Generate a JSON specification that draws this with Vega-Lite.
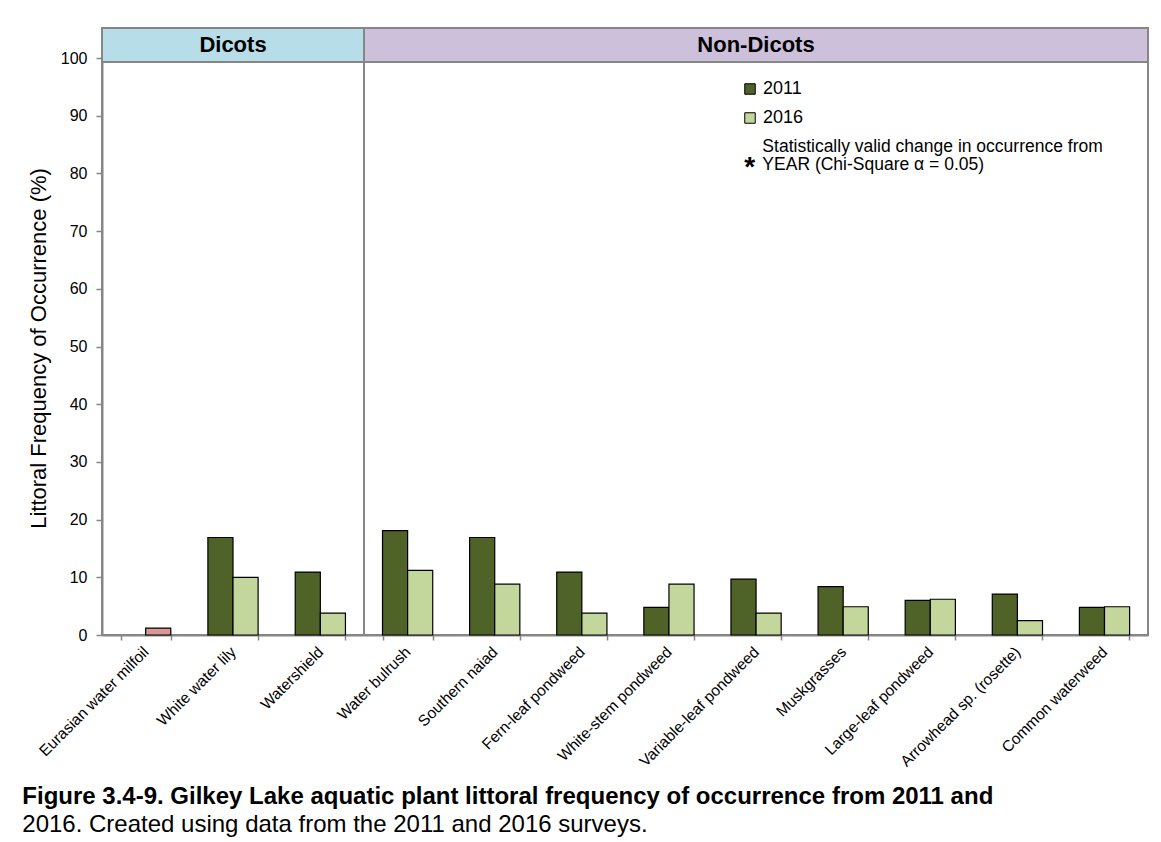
{
  "$schema": "https://vega.github.io/schema/vega-lite/v6.json",
  "padding": {"left": 22, "top": 26, "right": 5, "bottom": 2},
  "background": "white",
  "datasets": {
    "freq": [
      {"group": "Dicots", "species": "Eurasian water milfoil", "year": "2016", "value": 1.2},
      {"group": "Dicots", "species": "White water lily", "year": "2011", "value": 16.9},
      {"group": "Dicots", "species": "White water lily", "year": "2016", "value": 10.0},
      {"group": "Dicots", "species": "Watershield", "year": "2011", "value": 10.9},
      {"group": "Dicots", "species": "Watershield", "year": "2016", "value": 3.8},
      {"group": "Non-Dicots", "species": "Water bulrush", "year": "2011", "value": 18.1},
      {"group": "Non-Dicots", "species": "Water bulrush", "year": "2016", "value": 11.2},
      {"group": "Non-Dicots", "species": "Southern naiad", "year": "2011", "value": 16.9},
      {"group": "Non-Dicots", "species": "Southern naiad", "year": "2016", "value": 8.8},
      {"group": "Non-Dicots", "species": "Fern-leaf pondweed", "year": "2011", "value": 10.9},
      {"group": "Non-Dicots", "species": "Fern-leaf pondweed", "year": "2016", "value": 3.8},
      {"group": "Non-Dicots", "species": "White-stem pondweed", "year": "2011", "value": 4.8},
      {"group": "Non-Dicots", "species": "White-stem pondweed", "year": "2016", "value": 8.8},
      {"group": "Non-Dicots", "species": "Variable-leaf pondweed", "year": "2011", "value": 9.7},
      {"group": "Non-Dicots", "species": "Variable-leaf pondweed", "year": "2016", "value": 3.8},
      {"group": "Non-Dicots", "species": "Muskgrasses", "year": "2011", "value": 8.4},
      {"group": "Non-Dicots", "species": "Muskgrasses", "year": "2016", "value": 4.9},
      {"group": "Non-Dicots", "species": "Large-leaf pondweed", "year": "2011", "value": 6.0},
      {"group": "Non-Dicots", "species": "Large-leaf pondweed", "year": "2016", "value": 6.2},
      {"group": "Non-Dicots", "species": "Arrowhead sp. (rosette)", "year": "2011", "value": 7.1},
      {"group": "Non-Dicots", "species": "Arrowhead sp. (rosette)", "year": "2016", "value": 2.5},
      {"group": "Non-Dicots", "species": "Common waterweed", "year": "2011", "value": 4.8},
      {"group": "Non-Dicots", "species": "Common waterweed", "year": "2016", "value": 4.9}
    ],
    "headers": [
      {"group": "Dicots"},
      {"group": "Non-Dicots"}
    ],
    "note": [
      {"line1": "Statistically valid change in occurrence from", "line2": "YEAR (Chi-Square α = 0.05)", "star": "*"}
    ]
  },
  "spacing": 0,
  "bounds": "flush",
  "resolve": {"legend": {"color": "independent"}},
  "hconcat": [
    {
      "width": 262,
      "height": 607,
      "layer": [
        {
          "data": {"name": "freq"},
          "transform": [{"filter": "datum.group === 'Dicots'"}],
          "mark": {"type": "bar", "stroke": "black", "strokeWidth": 1.2},
          "encoding": {
            "x": {
              "field": "species", "type": "nominal",
              "sort": ["Eurasian water milfoil", "White water lily", "Watershield"],
              "scale": {"paddingInner": 0.425, "paddingOuter": 0.2125},
              "title": null,
              "axis": {"labelAngle": -45, "tickBand": "extent"}
            },
            "xOffset": {"field": "year", "type": "nominal", "scale": {"domain": ["2011", "2016"]}},
            "y": {
              "field": "value", "type": "quantitative",
              "scale": {"domain": [0, 105.2], "nice": false, "zero": true},
              "axis": {
                "title": "Littoral Frequency of Occurrence (%)",
                "values": [0, 5, 10, 15, 20, 25, 30, 35, 40, 45, 50, 55, 60, 65, 70, 75, 80, 85, 90, 95, 100],
                "labelExpr": "datum.value % 10 === 0 ? datum.label : ''",
                "tickSize": {"condition": {"test": "datum.value % 10 === 0", "value": 6}, "value": 3},
                "labelFontSize": 16,
                "labelPadding": 9,
                "titleFontSize": 22,
                "titleFontWeight": "normal",
                "titlePadding": 10,
                "titleY": 320,
                "grid": false
              }
            },
            "color": {
              "condition": {"test": "datum.species === 'Eurasian water milfoil'", "value": "#d99795"},
              "field": "year", "type": "nominal",
              "scale": {"domain": ["2011", "2016"], "range": ["#4f6228", "#c3d69b"]},
              "legend": null
            }
          }
        },
        {
          "data": {"name": "headers"},
          "transform": [{"filter": "datum.group === 'Dicots'"}],
          "mark": {"type": "rect", "fill": "#b7dde8", "stroke": "#868686", "strokeWidth": 2},
          "encoding": {
            "x": {"value": 0},
            "x2": {"value": "width"},
            "y": {"datum": 99.3, "type": "quantitative"},
            "y2": {"datum": 105.2}
          }
        },
        {
          "data": {"name": "headers"},
          "transform": [{"filter": "datum.group === 'Dicots'"}],
          "mark": {"type": "text", "fontSize": 22, "fontWeight": "bold", "color": "black", "baseline": "middle"},
          "encoding": {
            "text": {"field": "group"},
            "y": {"datum": 102.25, "type": "quantitative"}
          }
        }
      ]
    },
    {
      "width": 784,
      "height": 607,
      "layer": [
        {
          "data": {"name": "freq"},
          "transform": [{"filter": "datum.group === 'Non-Dicots'"}],
          "mark": {"type": "bar", "stroke": "black", "strokeWidth": 1.2},
          "encoding": {
            "x": {
              "field": "species", "type": "nominal",
              "sort": ["Water bulrush", "Southern naiad", "Fern-leaf pondweed", "White-stem pondweed", "Variable-leaf pondweed", "Muskgrasses", "Large-leaf pondweed", "Arrowhead sp. (rosette)", "Common waterweed"],
              "scale": {"paddingInner": 0.425, "paddingOuter": 0.2125},
              "title": null,
              "axis": {"labelAngle": -45, "tickBand": "extent"}
            },
            "xOffset": {"field": "year", "type": "nominal", "scale": {"domain": ["2011", "2016"]}},
            "y": {
              "field": "value", "type": "quantitative",
              "scale": {"domain": [0, 105.2], "nice": false, "zero": true},
              "axis": null
            },
            "color": {
              "field": "year", "type": "nominal",
              "scale": {"domain": ["2011", "2016"], "range": ["#4f6228", "#c3d69b"]},
              "legend": {
                "title": null,
                "orient": "none",
                "legendX": 377,
                "legendY": 52,
                "symbolType": "square",
                "symbolSize": 110,
                "symbolStrokeColor": "black",
                "symbolStrokeWidth": 1,
                "labelFontSize": 18,
                "labelOffset": 4,
                "rowPadding": 11,
                "padding": 0
              }
            }
          }
        },
        {
          "data": {"name": "headers"},
          "transform": [{"filter": "datum.group === 'Non-Dicots'"}],
          "mark": {"type": "rect", "fill": "#ccc0da", "stroke": "#868686", "strokeWidth": 2},
          "encoding": {
            "x": {"value": 0},
            "x2": {"value": "width"},
            "y": {"datum": 99.3, "type": "quantitative"},
            "y2": {"datum": 105.2}
          }
        },
        {
          "data": {"name": "headers"},
          "transform": [{"filter": "datum.group === 'Non-Dicots'"}],
          "mark": {"type": "text", "fontSize": 22, "fontWeight": "bold", "color": "black", "baseline": "middle"},
          "encoding": {
            "text": {"field": "group"},
            "y": {"datum": 102.25, "type": "quantitative"}
          }
        },
        {
          "data": {"name": "note"},
          "mark": {"type": "text", "fontSize": 17.5, "align": "left", "baseline": "alphabetic", "lineHeight": 18.5, "color": "black"},
          "encoding": {
            "text": {"value": ["Statistically valid change in occurrence from", "YEAR (Chi-Square α = 0.05)"]},
            "x": {"datum": "Variable-leaf pondweed", "type": "nominal", "bandPosition": 0.627},
            "y": {"datum": 83.76, "type": "quantitative"}
          }
        },
        {
          "data": {"name": "note"},
          "mark": {"type": "text", "fontSize": 28, "fontWeight": "bold", "align": "center", "baseline": "alphabetic", "color": "black"},
          "encoding": {
            "text": {"field": "star"},
            "x": {"datum": "Variable-leaf pondweed", "type": "nominal", "bandPosition": 0.375},
            "y": {"datum": 79.5, "type": "quantitative"}
          }
        }
      ]
    }
  ],
  "title": {
    "text": "Figure 3.4-9.  Gilkey Lake aquatic plant littoral frequency of occurrence from 2011 and",
    "subtitle": "2016. Created using data from the 2011 and 2016 surveys.",
    "orient": "bottom",
    "anchor": "start",
    "frame": "bounds",
    "fontSize": 24,
    "fontWeight": "bold",
    "subtitleFontSize": 24,
    "subtitleFontWeight": "normal",
    "color": "black",
    "subtitleColor": "black",
    "offset": 14,
    "subtitlePadding": 4,
    "dx": -4
  },
  "config": {
    "font": "Liberation Sans",
    "view": {"stroke": "#868686", "strokeWidth": 2},
    "axis": {
      "domainColor": "#868686",
      "domainWidth": 2,
      "tickColor": "#868686",
      "tickWidth": 1.5,
      "labelColor": "black",
      "titleColor": "black",
      "grid": false
    },
    "axisX": {
      "tickSize": 5,
      "labelFontSize": 15.5,
      "labelPadding": 9,
      "labelBaseline": "middle",
      "labelLimit": 250
    },
    "legend": {"labelColor": "black"},
    "title": {"font": "Liberation Sans", "subtitleFont": "Liberation Sans"}
  }
}
